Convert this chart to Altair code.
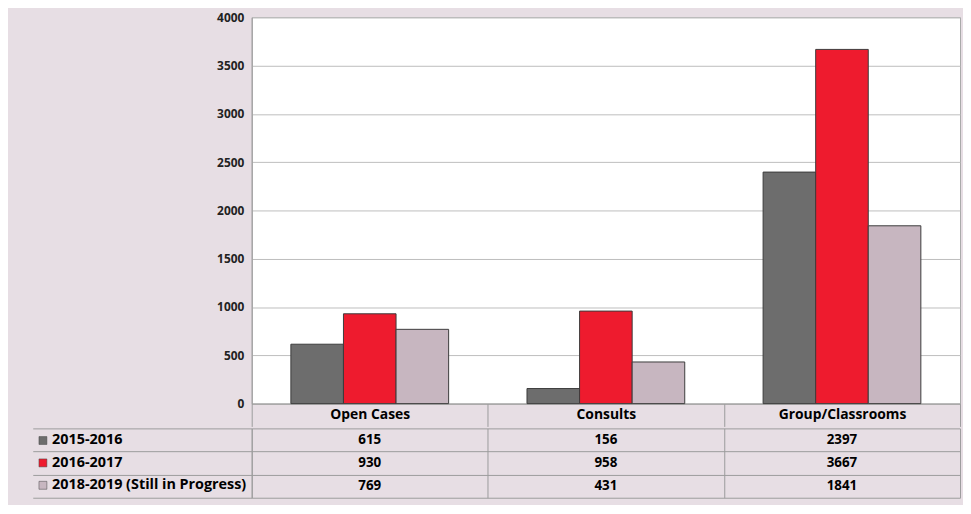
import altair as alt
import pandas as pd

categories = ["Open Cases", "Consults", "Group/Classrooms"]
years = ["2015-2016", "2016-2017", "2018-2019 (Still in Progress)"]
v2015 = [615, 156, 2397]
v2016 = [930, 958, 3667]
v2018 = [769, 431, 1841]
colors = ["#6d6d6d", "#ee1b2e", "#c7b6c0"]
y_ticks = [0, 500, 1000, 1500, 2000, 2500, 3000, 3500, 4000]

rows = []
for yr, vals in zip(years, [v2015, v2016, v2018]):
    for c, v in zip(categories, vals):
        rows.append({"category": c, "year": yr, "value": v})
df = pd.DataFrame(rows)

FONT = "Open Sans"
LINE = "#9c9c9c"

top = alt.Chart(df).mark_bar(stroke="#3c3c3c", strokeWidth=1).encode(
    x=alt.X("category:N", sort=categories,
            scale=alt.Scale(paddingInner=0, paddingOuter=0),
            axis=alt.Axis(title=None, labelAngle=0, labelFont=FONT, labelFontWeight="bold",
                          labelFontSize=14, labelColor="black", tickBand="extent",
                          tickSize=23, tickColor=LINE, domainColor=LINE,
                          labelPadding=-19, grid=False)),
    xOffset=alt.XOffset("year:N", sort=years,
                        scale=alt.Scale(paddingOuter=0.745, paddingInner=0)),
    y=alt.Y("value:Q", scale=alt.Scale(domain=[0, 4000]),
            axis=alt.Axis(values=y_ticks, format="d", title=None, ticks=False, labelPadding=8,
                          labelFont=FONT, labelFontWeight="bold", labelFontSize=12,
                          labelColor="#222", gridColor="#bdbdbd", domainColor=LINE)),
    color=alt.Color("year:N", sort=years,
                    scale=alt.Scale(domain=years, range=colors),
                    legend=alt.Legend(orient="none", legendX=-218, legendY=420, title=None,
                                      symbolType="square", symbolSize=64,
                                      symbolStrokeColor="#444", symbolStrokeWidth=0.5,
                                      labelFont=FONT, labelFontWeight="bold",
                                      labelFontSize=14.5, labelColor="black", labelLimit=400,
                                      labelOffset=2, rowPadding=7.6, padding=0)),
).properties(width=715, height=390,
             view=alt.ViewBackground(fill="white", stroke="#a8a8a8"))

table = alt.Chart(df).mark_text(font=FONT, fontWeight="bold", fontSize=13.5, color="black").encode(
    x=alt.X("category:N", sort=categories,
            scale=alt.Scale(paddingInner=0, paddingOuter=0),
            axis=alt.Axis(title=None, labels=False, ticks=False, domain=False, grid=True,
                          tickBand="extent", gridColor=LINE)),
    y=alt.Y("year:N", sort=years,
            scale=alt.Scale(paddingInner=0, paddingOuter=0),
            axis=alt.Axis(title=None, labels=False, tickBand="extent", tickSize=221,
                          tickColor=LINE, domainColor=LINE, grid=True, gridColor=LINE)),
    text="value:Q",
).properties(width=715, height=70, view=alt.ViewBackground(strokeWidth=0))

chart = alt.vconcat(top, table, spacing=0).properties(
    background="#e7dee4",
    padding={"left": 24, "top": 0, "right": 2, "bottom": 4},
)

chart.save("out.html", embed_options={"renderer": "svg", "actions": False})
